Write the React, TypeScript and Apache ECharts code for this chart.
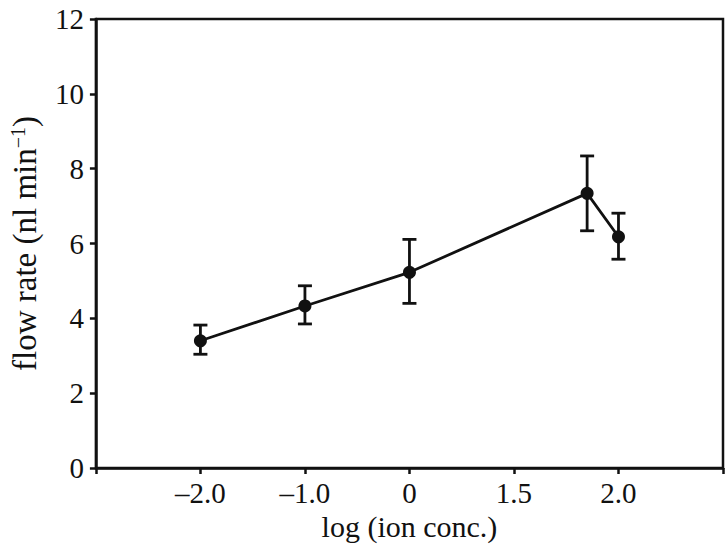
import React, { useEffect, useRef } from "react";
import * as echarts from "echarts";

const tickValues = [-2.0, -1.0, 0, 1.5, 2.0];
const tickLabels = ["–2.0", "–1.0", "0", "1.5", "2.0"];
const logConc = [-2.0, -1.0, 0, 1.85, 2.0];
const flowRate = [3.4, 4.33, 5.23, 7.34, 6.18];
const errUpper = [3.82, 4.87, 6.11, 8.34, 6.81];
const errLower = [3.04, 3.85, 4.4, 6.34, 5.58];
const yTicks = [0, 2, 4, 6, 8, 10, 12];

// broken axis: ticks equally spaced, values interpolated between neighbouring ticks
function toPos(v: number): number {
  for (let i = 0; i < tickValues.length - 1; i++) {
    if (v >= tickValues[i] && v <= tickValues[i + 1]) {
      return i + (v - tickValues[i]) / (tickValues[i + 1] - tickValues[i]);
    }
  }
  return v < tickValues[0] ? v - tickValues[0] : tickValues.length - 1 + (v - tickValues[tickValues.length - 1]);
}

const FONT = "Liberation Serif";
const INK = "#111";

export default function App() {
  const ref = useRef<HTMLDivElement>(null);
  useEffect(() => {
    if (!ref.current) return;
    const chart = echarts.init(ref.current, null, { renderer: "svg" });
    const lineData = logConc.map((v, i) => [toPos(v), flowRate[i]]);
    const errData = logConc.map((v, i) => [toPos(v), errLower[i], errUpper[i]]);
    chart.setOption({
      animation: false,
      backgroundColor: "#fff",
      grid: {
        left: 95,
        right: 4,
        top: 19,
        bottom: 79,
        show: true,
        borderColor: INK,
        borderWidth: 2.5,
      },
      xAxis: {
        type: "value",
        min: -1,
        max: 5,
        interval: 1,
        name: "log (ion conc.)",
        nameLocation: "middle",
        nameGap: 36,
        nameTextStyle: { fontFamily: FONT, fontSize: 30, color: INK },
        axisLine: { show: true, onZero: false, lineStyle: { color: INK, width: 2.5 } },
        axisTick: { show: true, inside: false, length: 6, lineStyle: { color: INK, width: 2.5 } },
        axisLabel: {
          margin: 10,
          fontFamily: FONT,
          fontSize: 29,
          color: INK,
          formatter: (v: number) => (v >= 0 && v < tickLabels.length ? tickLabels[v] : ""),
          showMinLabel: true,
          showMaxLabel: true,
        },
        splitLine: { show: false },
      },
      yAxis: {
        type: "value",
        min: yTicks[0],
        max: yTicks[yTicks.length - 1],
        interval: 2,
        name: "flow rate (nl min{sup|−1})",
        nameLocation: "middle",
        nameGap: 50,
        nameTextStyle: {
          fontFamily: FONT,
          fontSize: 33,
          color: INK,
          rich: {
            sup: { fontFamily: FONT, fontSize: 20, color: INK, verticalAlign: "top", lineHeight: 20, padding: [0, 0, 16, 0] },
          },
        },
        axisLine: { show: true, onZero: false, lineStyle: { color: INK, width: 2.5 } },
        axisTick: { show: true, inside: false, length: 6, lineStyle: { color: INK, width: 2.5 } },
        axisLabel: { margin: 12, fontFamily: FONT, fontSize: 29, color: INK },
        splitLine: { show: false },
      },
      series: [
        {
          type: "custom",
          data: errData,
          encode: { x: 0, y: [1, 2] },
          z: 3,
          renderItem: (params: any, api: any) => {
            const x = api.value(0);
            const lo = api.coord([x, api.value(1)]);
            const hi = api.coord([x, api.value(2)]);
            const cap = 7;
            const style = { stroke: INK, lineWidth: 2.8 };
            return {
              type: "group",
              children: [
                { type: "line", shape: { x1: lo[0], y1: lo[1], x2: hi[0], y2: hi[1] }, style },
                { type: "line", shape: { x1: hi[0] - cap, y1: hi[1], x2: hi[0] + cap, y2: hi[1] }, style },
                { type: "line", shape: { x1: lo[0] - cap, y1: lo[1], x2: lo[0] + cap, y2: lo[1] }, style },
              ],
            };
          },
        },
        {
          type: "line",
          data: lineData,
          symbol: "circle",
          symbolSize: 13,
          z: 4,
          lineStyle: { color: INK, width: 2.8 },
          itemStyle: { color: INK },
        },
      ],
    });
    return () => chart.dispose();
  }, []);
  return <div ref={ref} style={{ width: 727, height: 547, position: "absolute", left: 0, top: 0 }} />;
}
